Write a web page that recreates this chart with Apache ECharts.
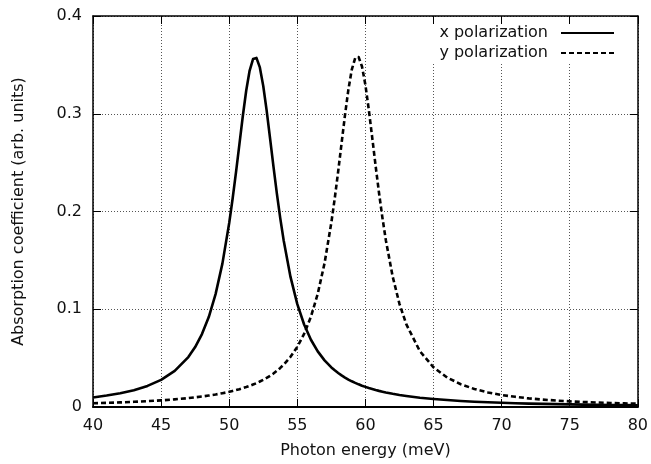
<!DOCTYPE html>
<html>
<head>
<meta charset="utf-8">
<script src="https://cdn.jsdelivr.net/npm/echarts@6/dist/echarts.min.js"></script>
<style>
  html, body { margin: 0; padding: 0; background: #fff; }
  #chart { width: 651px; height: 464px; }
</style>
</head>
<body>
<div id="chart"></div>
<script>
// photon energy (meV)
const energies = [
  40, 41, 42, 43, 44, 45, 46,
  47, 47.5, 48, 48.5, 49, 49.5,
  50, 50.25, 50.5, 50.75, 51, 51.25, 51.5, 51.75, 52, 52.25, 52.5, 52.75, 53, 53.25, 53.5, 53.75, 54,
  54.5, 55, 55.5, 56, 56.5, 57,
  57.5, 57.75, 58, 58.25, 58.5, 58.75, 59, 59.25, 59.5, 59.75, 60, 60.25, 60.5, 60.75, 61, 61.25, 61.5,
  62, 62.5, 63,
  64, 65, 66, 67, 68, 69, 70, 71, 72, 73, 74, 75, 76, 77, 78, 79, 80
];
// absorption, x polarization (solid)
const xPolarization = [
  0.0098, 0.0117, 0.0140, 0.0172, 0.0216, 0.0278, 0.0369,
  0.0511, 0.0613, 0.0746, 0.0920, 0.1155, 0.1467,
  0.1882, 0.2130, 0.2403, 0.2690, 0.2977, 0.3238, 0.3442, 0.3560, 0.3571, 0.3474, 0.3284, 0.3032, 0.2749, 0.2459, 0.2183, 0.1929, 0.1703,
  0.1331, 0.1052, 0.0844, 0.0688, 0.0569, 0.0477,
  0.0405, 0.0375, 0.0348, 0.0323, 0.0301, 0.0281, 0.0263, 0.0247, 0.0232, 0.0218, 0.0206, 0.0194, 0.0184, 0.0174, 0.0165, 0.0157, 0.0149,
  0.0135, 0.0123, 0.0113,
  0.0095, 0.0082, 0.0071, 0.0062, 0.0054, 0.0048, 0.0043, 0.0039, 0.0035, 0.0032, 0.0029, 0.0027, 0.0024, 0.0023, 0.0021, 0.0019, 0.0018
];
// absorption, y polarization (dashed)
const yPolarization = [
  0.0038, 0.0042, 0.0047, 0.0053, 0.0060, 0.0068, 0.0078,
  0.0091, 0.0099, 0.0107, 0.0117, 0.0128, 0.0141,
  0.0155, 0.0164, 0.0173, 0.0182, 0.0193, 0.0204, 0.0216, 0.0230, 0.0244, 0.0261, 0.0278, 0.0298, 0.0319, 0.0343, 0.0370, 0.0400, 0.0433,
  0.0513, 0.0615, 0.0748, 0.0923, 0.1158, 0.1471,
  0.1887, 0.2136, 0.2409, 0.2698, 0.2985, 0.3247, 0.3452, 0.3570, 0.3581, 0.3483, 0.3294, 0.3041, 0.2756, 0.2466, 0.2189, 0.1935, 0.1707,
  0.1335, 0.1055, 0.0847,
  0.0571, 0.0406, 0.0302, 0.0233, 0.0184, 0.0149, 0.0123, 0.0104, 0.0088, 0.0076, 0.0066, 0.0058, 0.0051, 0.0046, 0.0041, 0.0037, 0.0034
];
const seriesNames = ['x polarization', 'y polarization'];

const font = 'DejaVu Sans';
const tickStyle = { show: true, inside: true, length: 8, lineStyle: { color: '#000', width: 1 } };
const gridLine = { show: true, lineStyle: { color: '#555', width: 1, type: [1, 2] } };

const chart = echarts.init(document.getElementById('chart'), null, { renderer: 'canvas' });

chart.setOption({
  animation: false,
  backgroundColor: '#fff',
  textStyle: { fontFamily: font },
  grid: { left: 93, right: 13, top: 16, bottom: 57 },
  legend: {
    orient: 'vertical',
    right: 26,
    top: 18,
    z: 1,
    align: 'right',
    padding: [7, 10, 3, 10],
    itemGap: 4,
    itemWidth: 53,
    itemHeight: 14,
    backgroundColor: '#fff',
    itemStyle: { color: 'rgba(0,0,0,0)', borderWidth: 0 },
    textStyle: { fontFamily: font, fontSize: 16, color: '#111', lineHeight: 16, padding: [0, 8, 0, 0] },
    data: seriesNames
  },
  xAxis: [
    {
      type: 'value', min: 40, max: 80, interval: 5,
      name: 'Photon energy (meV)', nameLocation: 'middle', nameGap: 36,
      nameTextStyle: { fontFamily: font, fontSize: 16, color: '#111' },
      axisLine: { onZero: false, lineStyle: { color: '#000', width: 2 } },
      axisTick: tickStyle,
      axisLabel: { fontFamily: font, fontSize: 16, color: '#111', margin: 11 },
      splitLine: gridLine
    },
    {
      type: 'value', min: 40, max: 80, interval: 5, position: 'top', z: 6,
      axisLine: { show: true, onZero: false, lineStyle: { color: '#000', width: 1.5 } },
      axisTick: tickStyle,
      axisLabel: { show: false },
      splitLine: { show: false }
    }
  ],
  yAxis: [
    {
      type: 'value', min: 0, max: 0.4, interval: 0.1,
      name: 'Absorption coefficient (arb. units)', nameLocation: 'middle', nameGap: 66,
      nameTextStyle: { fontFamily: font, fontSize: 16, color: '#111' },
      axisLine: { show: true, onZero: false, lineStyle: { color: '#000', width: 1.5 } },
      axisTick: tickStyle,
      axisLabel: { fontFamily: font, fontSize: 16, color: '#111', margin: 11 },
      splitLine: gridLine
    },
    {
      type: 'value', min: 0, max: 0.4, interval: 0.1, position: 'right', z: 6,
      axisLine: { show: true, onZero: false, lineStyle: { color: '#000', width: 1.5 } },
      axisTick: tickStyle,
      axisLabel: { show: false },
      splitLine: { show: false }
    }
  ],
  series: [
    {
      name: seriesNames[0],
      type: 'line',
      data: energies.map((e, i) => [e, xPolarization[i]]),
      showSymbol: false,
      symbol: 'none',
      smooth: false,
      lineStyle: { color: '#000', width: 2.6, join: 'round' },
      itemStyle: { color: '#000' }
    },
    {
      name: seriesNames[1],
      type: 'line',
      data: energies.map((e, i) => [e, yPolarization[i]]),
      showSymbol: false,
      symbol: 'none',
      smooth: false,
      lineStyle: { color: '#000', width: 2.6, type: [5, 3], join: 'round' },
      itemStyle: { color: '#000' }
    }
  ]
});
</script>
</body>
</html>
